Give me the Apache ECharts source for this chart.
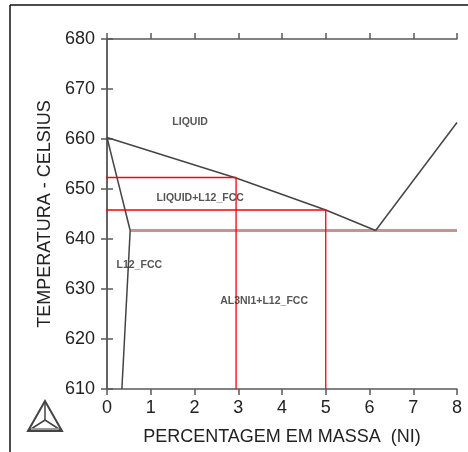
<!DOCTYPE html>
<html>
<head>
<meta charset="utf-8">
<script src="https://cdn.jsdelivr.net/npm/echarts@6/dist/echarts.min.js"></script>
<style>html,body{margin:0;padding:0;background:#fff;}#c{width:468px;height:452px;}</style>
</head>
<body>
<div id="c"></div>
<script>
// Phase boundaries (x = wt% Ni, y = temperature °C)
var liquidusX = [0, 2.95, 5, 6.14];
var liquidusY = [660.3, 652.2, 645.8, 641.7];
var liquidusRightX = [6.14, 8];
var liquidusRightY = [641.7, 663.3];
var solidusX = [0, 0.53];
var solidusY = [660.3, 641.7];
var solvusX = [0.53, 0.34];
var solvusY = [641.7, 610];
var eutecticX = [0.53, 8];
var eutecticY = [641.7, 641.7];
// Red construction lines
var red1X = [-0.07, 2.95, 2.95];
var red1Y = [652.3, 652.3, 610];
var red2X = [-0.07, 5, 5];
var red2Y = [645.8, 645.8, 610];
// Region labels
var labelNames = ['LIQUID', 'LIQUID+L12_FCC', 'L12_FCC', 'AL3NI1+L12_FCC'];
var labelX = [1.9, 2.13, 0.74, 3.59];
var labelY = [663.3, 648.1, 634.8, 627.5];
// Axis ticks
var xTicks = [0, 1, 2, 3, 4, 5, 6, 7, 8];
var yTicks = [610, 620, 630, 640, 650, 660, 670, 680];

function pairs(xs, ys) { return xs.map(function (x, i) { return [x, ys[i]]; }); }

var chart = echarts.init(document.getElementById('c'), null, {renderer: 'canvas'});
var font = "'Liberation Sans', Arial, sans-serif";
var axisCol = '#5a5a5a';

function lineSeries(xs, ys, color, width, clip) {
  return {
    type: 'line', data: pairs(xs, ys), symbol: 'none', clip: clip,
    lineStyle: {color: color, width: width}, silent: true, animation: false, z: 3
  };
}

var option = {
  animation: false,
  backgroundColor: '#fff',
  grid: {left: 107, top: 39, width: 350, height: 350},
  xAxis: [{
    type: 'value', min: xTicks[0], max: xTicks[xTicks.length - 1], interval: 1,
    position: 'bottom',
    name: 'PERCENTAGEM EM MASSA  (NI)', nameLocation: 'middle', nameGap: 39,
    nameTextStyle: {fontFamily: font, fontSize: 18, color: '#222'},
    axisLine: {show: true, lineStyle: {color: axisCol, width: 1.5}},
    axisTick: {show: true, inside: false, length: 6, lineStyle: {color: axisCol, width: 1.5}},
    axisLabel: {margin: 10, fontFamily: font, fontSize: 18, color: '#222'},
    splitLine: {show: false}
  }, {
    type: 'value', min: xTicks[0], max: xTicks[xTicks.length - 1], interval: 1,
    position: 'top',
    axisLine: {show: true, lineStyle: {color: axisCol, width: 1.5}},
    axisTick: {show: true, inside: false, length: 6, lineStyle: {color: axisCol, width: 1.5}},
    axisLabel: {show: false},
    splitLine: {show: false}
  }],
  yAxis: [{
    type: 'value', min: yTicks[0], max: yTicks[yTicks.length - 1], interval: 10,
    position: 'left',
    name: 'TEMPERATURA - CELSIUS', nameLocation: 'middle', nameGap: 52,
    nameTextStyle: {fontFamily: font, fontSize: 18, color: '#222'},
    axisLine: {show: true, lineStyle: {color: axisCol, width: 1.5}},
    axisTick: {show: true, inside: false, length: 6, lineStyle: {color: axisCol, width: 1.5}},
    axisLabel: {margin: 12, fontFamily: font, fontSize: 18, color: '#222'},
    splitLine: {show: false}
  }, {
    type: 'value', min: yTicks[0], max: yTicks[yTicks.length - 1], interval: 10,
    position: 'right',
    axisLine: {show: true, lineStyle: {color: axisCol, width: 1.5}},
    axisTick: {show: true, inside: false, length: 6, lineStyle: {color: axisCol, width: 1.5}},
    axisLabel: {show: false},
    splitLine: {show: false}
  }],
  series: [
    lineSeries(eutecticX, eutecticY, '#c29595', 3, true),
    lineSeries(liquidusX, liquidusY, '#444', 1.5, true),
    lineSeries(liquidusRightX, liquidusRightY, '#444', 1.5, true),
    lineSeries(solidusX, solidusY, '#444', 1.5, true),
    lineSeries(solvusX, solvusY, '#444', 1.5, true),
    lineSeries(red1X, red1Y, '#ff0000', 1.3, false),
    lineSeries(red2X, red2Y, '#ff0000', 1.3, false),
    {
      type: 'scatter', symbolSize: 0, silent: true, z: 5,
      data: labelNames.map(function (n, i) { return {name: n, value: [labelX[i], labelY[i]]}; }),
      label: {
        show: true, position: 'inside', formatter: function (p) { return p.name; },
        fontFamily: font, fontSize: 10.5, fontWeight: 'bold', color: '#2a2a2a'
      }
    }
  ],
  graphic: [
    {type: 'line', shape: {x1: 10, y1: 5, x2: 468, y2: 5}, style: {stroke: '#111', lineWidth: 1.5}},
    {type: 'line', shape: {x1: 10, y1: 5, x2: 10, y2: 452}, style: {stroke: '#111', lineWidth: 1.5}},
    {type: 'polygon', shape: {points: [[45, 401], [28, 431], [62, 431]]}, style: {fill: 'none', stroke: '#444', lineWidth: 2}},
    {type: 'polyline', shape: {points: [[45, 401], [45, 420]]}, style: {stroke: '#444', lineWidth: 1.5, fill: 'none'}},
    {type: 'polyline', shape: {points: [[28, 431], [45, 420], [62, 431]]}, style: {stroke: '#444', lineWidth: 1.5, fill: 'none'}},
    {type: 'polyline', shape: {points: [[31, 429], [59, 429]]}, style: {stroke: '#999', lineWidth: 2, fill: 'none'}}
  ]
};
chart.setOption(option);
</script>
</body>
</html>
